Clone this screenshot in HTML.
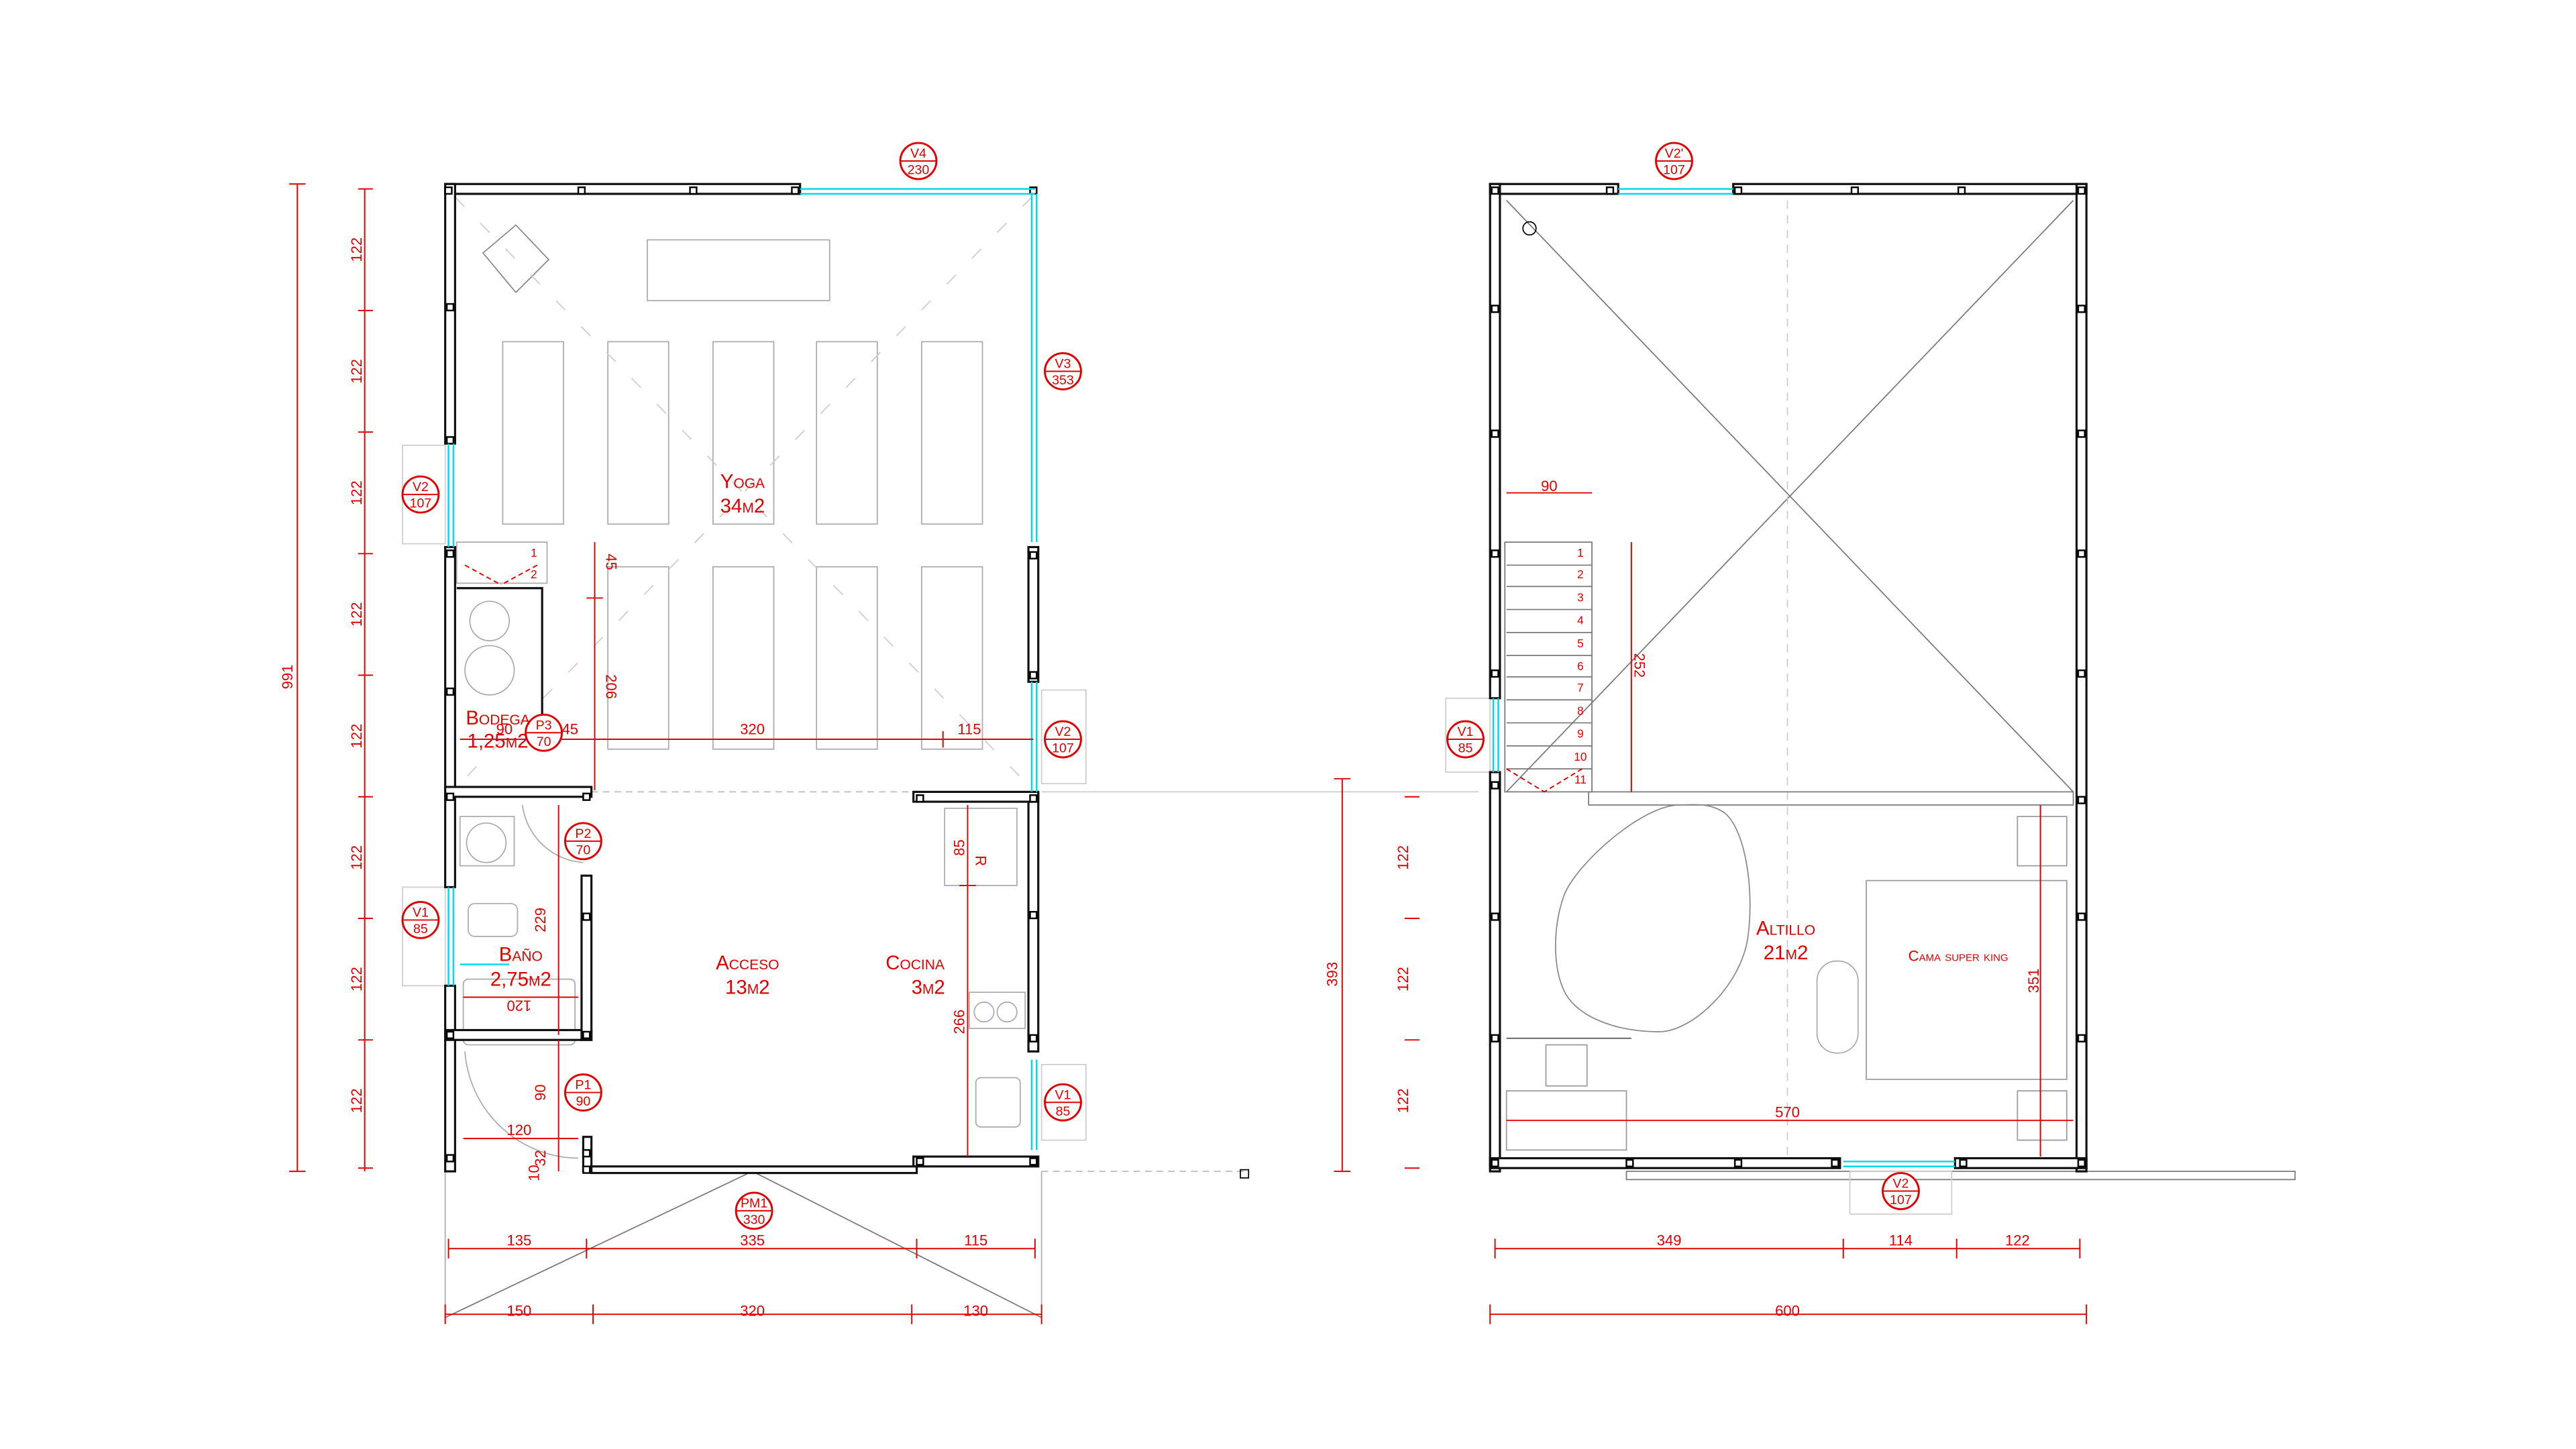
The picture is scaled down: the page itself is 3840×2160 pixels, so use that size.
<!DOCTYPE html>
<html><head><meta charset="utf-8">
<style>
html,body{margin:0;padding:0;background:#fff;}
svg{display:block}
text{font-family:"Liberation Sans",sans-serif;fill:#e00000;}
.sc{font-variant:small-caps;}
</style></head>
<body>
<svg width="3840" height="2160" viewBox="0 0 1568 882" xmlns="http://www.w3.org/2000/svg">
<rect width="1568" height="882" fill="#fff"/>
<defs>
<g id="tag"><circle r="11" fill="#fff" stroke="#e00000" stroke-width="1.2"/><line x1="-11" y1="0" x2="11" y2="0" stroke="#e00000" stroke-width="0.8"/></g>
</defs>

<!-- ============ LEFT PLAN ============ -->
<g fill="none" stroke="#aaa" stroke-width="0.7">
  <rect x="394" y="146" width="111" height="37"/>
  <rect x="306" y="208" width="37" height="111"/><rect x="370" y="208" width="37" height="111"/><rect x="434" y="208" width="37" height="111"/><rect x="497" y="208" width="37" height="111"/><rect x="561" y="208" width="37" height="111"/>
  <rect x="370" y="345" width="37" height="111"/><rect x="434" y="345" width="37" height="111"/><rect x="497" y="345" width="37" height="111"/><rect x="561" y="345" width="37" height="111"/>
  <polygon points="294,154 314,137 334,158 314,178" stroke="#888"/>
  <line x1="277" y1="120" x2="628" y2="480" stroke="#ccc" stroke-dasharray="8 14"/>
  <line x1="628" y1="120" x2="277" y2="480" stroke="#ccc" stroke-dasharray="8 14"/>
  <circle cx="298" cy="378" r="12"/><circle cx="298" cy="408" r="15"/>
  <circle cx="296" cy="513" r="12"/><rect x="280" y="497" width="33" height="30"/>
  <rect x="285" y="550" width="30" height="20" rx="4"/>
  <rect x="282" y="596" width="68" height="40" rx="3"/>
  <rect x="575" y="492" width="44" height="47"/>
  <rect x="590" y="604" width="34" height="22"/><circle cx="599" cy="616" r="6"/><circle cx="613" cy="616" r="6"/>
  <rect x="594" y="656" width="27" height="30" rx="3"/>
  <rect x="278" y="330" width="55" height="25"/>
  <line x1="271" y1="713" x2="271" y2="802"/><line x1="634" y1="713" x2="634" y2="802"/>
  <line x1="271" y1="802" x2="458" y2="713" stroke="#777"/><line x1="458" y1="713" x2="634" y2="802" stroke="#777"/>
  <path d="M318 490 A40 40 0 0 0 355 525"/><path d="M283 640 A70 70 0 0 0 352 705"/>
  <line x1="634" y1="482" x2="900" y2="482" stroke="#ccc"/>
  <line x1="360" y1="482" x2="556" y2="482" stroke="#bbb" stroke-dasharray="4 3"/>
  <line x1="634" y1="713" x2="757" y2="713" stroke="#bbb" stroke-dasharray="4 3"/>
  <rect x="755" y="712" width="5" height="5" stroke="#000"/>
  <rect x="245" y="271" width="26" height="60" stroke="#ccc"/>
  <rect x="245" y="540" width="26" height="60" stroke="#ccc"/>
  <rect x="634" y="420" width="27" height="57" stroke="#ccc"/>
  <rect x="634" y="648" width="27" height="46" stroke="#ccc"/>
</g>
<!-- walls -->
<g fill="#fff" stroke="#111" stroke-width="1.3">
  <rect x="271" y="112" width="216" height="6"/>
  <rect x="271" y="112" width="6" height="158"/>
  <rect x="271" y="333" width="6" height="207"/>
  <rect x="271" y="600" width="6" height="113"/>
  <rect x="626" y="333" width="6" height="82"/>
  <rect x="626" y="483" width="6" height="157"/>
  <rect x="271" y="479" width="89" height="6"/>
  <rect x="556" y="482" width="76" height="6"/>
  <rect x="556" y="704" width="76" height="6"/>
  <rect x="271" y="627" width="89" height="6"/>
  <rect x="354" y="533" width="6" height="100"/>
  <rect x="355" y="692" width="5" height="21"/>
  <rect x="360" y="710" width="198" height="4"/>
  <path d="M278 358 H330 V440" fill="none"/>
</g>
<g fill="#fff" stroke="#000" stroke-width="1">
  <rect x="271" y="114" width="4" height="4"/><rect x="352" y="114" width="4" height="4"/><rect x="420" y="114" width="4" height="4"/><rect x="482" y="114" width="4" height="4"/>
  <rect x="272" y="185" width="4" height="4"/><rect x="272" y="266" width="4" height="4"/><rect x="272" y="335" width="4" height="4"/><rect x="272" y="419" width="4" height="4"/>
  <rect x="272" y="483" width="4" height="4"/><rect x="272" y="628" width="4" height="4"/><rect x="272" y="703" width="4" height="4"/>
  <rect x="627" y="114" width="4" height="4"/><rect x="627" y="336" width="4" height="4"/><rect x="627" y="409" width="4" height="4"/>
  <rect x="627" y="484" width="4" height="4"/><rect x="627" y="555" width="4" height="4"/><rect x="627" y="630" width="4" height="4"/><rect x="627" y="705" width="4" height="4"/>
  <rect x="355" y="483" width="4" height="4"/><rect x="355" y="556" width="4" height="4"/><rect x="355" y="628" width="4" height="4"/><rect x="355" y="700" width="4" height="4"/><rect x="355" y="710" width="4" height="4"/>
  <rect x="558" y="484" width="4" height="4"/><rect x="558" y="705" width="4" height="4"/>
</g>
<!-- windows cyan -->
<g stroke="#00d8e8" stroke-width="1">
  <line x1="487" y1="115" x2="630" y2="115"/><line x1="487" y1="118" x2="630" y2="118"/>
  <line x1="628" y1="118" x2="628" y2="330"/><line x1="631" y1="118" x2="631" y2="330"/>
  <line x1="273" y1="270" x2="273" y2="333"/><line x1="276" y1="270" x2="276" y2="333"/>
  <line x1="628" y1="415" x2="628" y2="482"/><line x1="631" y1="415" x2="631" y2="482"/>
  <line x1="273" y1="540" x2="273" y2="600"/><line x1="276" y1="540" x2="276" y2="600"/>
  <line x1="628" y1="645" x2="628" y2="700"/><line x1="631" y1="645" x2="631" y2="700"/>
  <line x1="280" y1="587" x2="310" y2="587"/>
</g>

<!-- ============ RIGHT PLAN ============ -->
<g fill="none" stroke="#777" stroke-width="0.7">
  <line x1="917" y1="122" x2="1262" y2="482"/><line x1="1262" y1="122" x2="917" y2="482"/>
  <line x1="1088" y1="122" x2="1088" y2="705" stroke="#ccc" stroke-dasharray="5 4"/>
  <rect x="967" y="482" width="295" height="8"/>
  <rect x="916" y="330" width="53" height="152"/>
  <path d="M917 344H969M917 357H969M917 371H969M917 385H969M917 399H969M917 412H969M917 426H969M917 440H969M917 454H969M917 468H969"/>
  <rect x="990" y="713" width="407" height="5"/>
  <path d="M1022 490 C1000 490 960 525 952 545 C945 565 945 590 953 605 C962 620 985 628 1010 628 C1030 628 1060 600 1064 570 C1068 540 1062 505 1050 495 C1040 488 1030 490 1022 490Z" stroke="#888"/>
  <rect x="1106" y="585" width="25" height="56" rx="12" stroke="#aaa"/>
  <rect x="1136" y="536" width="122" height="121" stroke="#999"/>
  <rect x="1228" y="497" width="30" height="30" stroke="#999"/><rect x="1228" y="664" width="30" height="30" stroke="#999"/>
  <rect x="941" y="636" width="25" height="25" stroke="#999"/><rect x="917" y="664" width="73" height="36" stroke="#999"/>
  <line x1="917" y1="632" x2="993" y2="632" stroke="#555"/>
  <circle cx="931" cy="139" r="4" stroke="#000"/>
  <rect x="880" y="425" width="27" height="45" stroke="#ccc"/>
  <rect x="1126" y="713" width="62" height="26" stroke="#ccc"/>
</g>
<g fill="#fff" stroke="#111" stroke-width="1.3">
  <rect x="907" y="112" width="78" height="6"/>
  <rect x="1055" y="112" width="215" height="6"/>
  <rect x="907" y="112" width="6" height="313"/>
  <rect x="907" y="470" width="6" height="243"/>
  <rect x="1264" y="112" width="6" height="601"/>
  <rect x="907" y="705" width="213" height="6"/>
  <rect x="1190" y="705" width="80" height="6"/>
</g>
<g fill="#fff" stroke="#000" stroke-width="1">
  <rect x="908" y="114" width="4" height="4"/><rect x="978" y="114" width="4" height="4"/><rect x="1056" y="114" width="4" height="4"/><rect x="1127" y="114" width="4" height="4"/><rect x="1192" y="114" width="4" height="4"/><rect x="1265" y="114" width="4" height="4"/>
  <rect x="908" y="186" width="4" height="4"/><rect x="908" y="262" width="4" height="4"/><rect x="908" y="335" width="4" height="4"/><rect x="908" y="408" width="4" height="4"/><rect x="908" y="476" width="4" height="4"/><rect x="908" y="556" width="4" height="4"/><rect x="908" y="630" width="4" height="4"/><rect x="908" y="706" width="4" height="4"/>
  <rect x="1265" y="186" width="4" height="4"/><rect x="1265" y="262" width="4" height="4"/><rect x="1265" y="335" width="4" height="4"/><rect x="1265" y="408" width="4" height="4"/><rect x="1265" y="485" width="4" height="4"/><rect x="1265" y="556" width="4" height="4"/><rect x="1265" y="630" width="4" height="4"/><rect x="1265" y="706" width="4" height="4"/>
  <rect x="990" y="706" width="4" height="4"/><rect x="1056" y="706" width="4" height="4"/><rect x="1115" y="706" width="4" height="4"/><rect x="1193" y="706" width="4" height="4"/>
</g>
<g stroke="#00d8e8" stroke-width="1">
  <line x1="985" y1="115" x2="1055" y2="115"/><line x1="985" y1="118" x2="1055" y2="118"/>
  <line x1="909" y1="425" x2="909" y2="470"/><line x1="912" y1="425" x2="912" y2="470"/>
  <line x1="1122" y1="707" x2="1190" y2="707"/><line x1="1122" y1="710" x2="1190" y2="710"/>
</g>

<!-- ============ DIMENSIONS ============ -->
<g stroke="#e00000" stroke-width="0.8" fill="none">
  <line x1="181" y1="112" x2="181" y2="713"/><line x1="176" y1="112" x2="186" y2="112"/><line x1="176" y1="713" x2="186" y2="713"/>
  <line x1="222" y1="115" x2="222" y2="713"/>
  <path d="M218 115H227M218 189H227M218 263H227M218 337H227M218 411H227M218 485H227M218 559H227M218 633H227M218 711H227"/>
  <line x1="817" y1="474" x2="817" y2="713"/><line x1="812" y1="474" x2="822" y2="474"/><line x1="812" y1="713" x2="822" y2="713"/>
  <path d="M855 485H864M855 559H864M855 633H864M855 711H864"/>
  <line x1="273" y1="760" x2="630" y2="760"/><path d="M273 754V766M357 754V766M558 754V766M630 754V766"/>
  <line x1="271" y1="800" x2="634" y2="800"/><path d="M271 794V806M361 794V806M555 794V806M634 794V806"/>
  <line x1="910" y1="760" x2="1266" y2="760"/><path d="M910 754V766M1122 754V766M1191 754V766M1266 754V766"/>
  <line x1="907" y1="800" x2="1270" y2="800"/><path d="M907 794V806M1270 794V806"/>
  <line x1="280" y1="450" x2="629" y2="450"/><line x1="574" y1="445" x2="574" y2="455"/>
  <line x1="362" y1="330" x2="362" y2="481"/><line x1="357" y1="364" x2="367" y2="364"/>
  <line x1="340" y1="490" x2="340" y2="630"/>
  <line x1="282" y1="607" x2="352" y2="607"/>
  <line x1="340" y1="633" x2="340" y2="713"/>
  <line x1="282" y1="693" x2="352" y2="693"/>
  <line x1="589" y1="490" x2="589" y2="704"/><line x1="584" y1="539" x2="594" y2="539"/>
  <line x1="917" y1="300" x2="969" y2="300"/>
  <line x1="993" y1="330" x2="993" y2="482"/>
  <line x1="917" y1="682" x2="1262" y2="682"/>
  <line x1="1242" y1="490" x2="1242" y2="704"/>
  <line x1="917" y1="468" x2="940" y2="482" stroke-dasharray="3 2"/><line x1="963" y1="468" x2="940" y2="482" stroke-dasharray="3 2"/>
  <line x1="283" y1="344" x2="305" y2="356" stroke-dasharray="3 2"/><line x1="327" y1="344" x2="305" y2="356" stroke-dasharray="3 2"/>
</g>

<!-- tags -->
<g>
  <use href="#tag" x="559" y="98"/><use href="#tag" x="647" y="226"/><use href="#tag" x="256" y="301"/><use href="#tag" x="647" y="450"/>
  <use href="#tag" x="331" y="446"/><use href="#tag" x="355" y="512"/><use href="#tag" x="256" y="560"/><use href="#tag" x="355" y="665"/>
  <use href="#tag" x="647" y="671"/><use href="#tag" x="459" y="737"/><use href="#tag" x="1019" y="98"/><use href="#tag" x="892" y="450"/><use href="#tag" x="1157" y="725"/>
</g>
<g font-size="8" text-anchor="middle">
  <text x="559" y="96">V4</text><text x="559" y="106">230</text>
  <text x="647" y="224">V3</text><text x="647" y="234">353</text>
  <text x="256" y="299">V2</text><text x="256" y="309">107</text>
  <text x="647" y="448">V2</text><text x="647" y="458">107</text>
  <text x="331" y="444">P3</text><text x="331" y="454">70</text>
  <text x="355" y="510">P2</text><text x="355" y="520">70</text>
  <text x="256" y="558">V1</text><text x="256" y="568">85</text>
  <text x="355" y="663">P1</text><text x="355" y="673">90</text>
  <text x="647" y="669">V1</text><text x="647" y="679">85</text>
  <text x="459" y="735">PM1</text><text x="459" y="745">330</text>
  <text x="1019" y="96">V2'</text><text x="1019" y="106">107</text>
  <text x="892" y="448">V1</text><text x="892" y="458">85</text>
  <text x="1157" y="723">V2</text><text x="1157" y="733">107</text>
</g>

<!-- dimension texts -->
<g font-size="9" text-anchor="middle">
  <text transform="translate(178,412) rotate(-90)">991</text>
  <text transform="translate(220,152) rotate(-90)">122</text>
  <text transform="translate(220,226) rotate(-90)">122</text>
  <text transform="translate(220,300) rotate(-90)">122</text>
  <text transform="translate(220,374) rotate(-90)">122</text>
  <text transform="translate(220,448) rotate(-90)">122</text>
  <text transform="translate(220,522) rotate(-90)">122</text>
  <text transform="translate(220,596) rotate(-90)">122</text>
  <text transform="translate(220,670) rotate(-90)">122</text>
  <text transform="translate(814,593) rotate(-90)">393</text>
  <text transform="translate(857,522) rotate(-90)">122</text>
  <text transform="translate(857,596) rotate(-90)">122</text>
  <text transform="translate(857,670) rotate(-90)">122</text>
  <text x="316" y="758">135</text><text x="458" y="758">335</text><text x="594" y="758">115</text>
  <text x="316" y="801">150</text><text x="458" y="801">320</text><text x="594" y="801">130</text>
  <text x="1016" y="758">349</text><text x="1157" y="758">114</text><text x="1228" y="758">122</text>
  <text x="1088" y="801">600</text>
  <text x="458" y="447">320</text><text x="590" y="447">115</text><text x="307" y="447">90</text><text x="347" y="447">45</text>
  <text transform="translate(369,342) rotate(90)">45</text>
  <text transform="translate(369,418) rotate(90)">206</text>
  <text transform="translate(332,560) rotate(-90)">229</text>
  <text transform="translate(316,609) rotate(180)">120</text>
  <text transform="translate(332,665) rotate(-90)">90</text>
  <text x="316" y="691">120</text>
  <text transform="translate(332,705) rotate(-90)">32</text>
  <text transform="translate(328,714) rotate(-90)">10</text>
  <text transform="translate(587,516) rotate(-90)">85</text>
  <text transform="translate(587,622) rotate(-90)">266</text>
  <text transform="translate(594,524) rotate(90)">R</text>
  <text x="943" y="299">90</text>
  <text transform="translate(995,405) rotate(90)">252</text>
  <text x="1088" y="680">570</text>
  <text transform="translate(1241,597) rotate(-90)">351</text>
</g>
<g font-size="7" text-anchor="middle">
  <text x="962" y="339">1</text><text x="962" y="352">2</text><text x="962" y="366">3</text><text x="962" y="380">4</text><text x="962" y="394">5</text><text x="962" y="408">6</text><text x="962" y="421">7</text><text x="962" y="435">8</text><text x="962" y="449">9</text><text x="962" y="463">10</text><text x="962" y="477">11</text>
  <text x="325" y="339">1</text><text x="325" y="352">2</text>
</g>

<!-- room labels -->
<g font-size="12" text-anchor="middle" class="sc">
  <text x="452" y="297">Yoga</text><text x="452" y="312">34m2</text>
  <text x="303" y="441">Bodega</text><text x="303" y="455">1,25m2</text>
  <text x="317" y="585">Baño</text><text x="317" y="600">2,75m2</text>
  <text x="455" y="590">Acceso</text><text x="455" y="605">13m2</text>
  <text x="557" y="590">Cocina</text><text x="565" y="605">3m2</text>
  <text x="1087" y="569">Altillo</text><text x="1087" y="584">21m2</text>
</g>
<text x="1192" y="585" font-size="9" text-anchor="middle" class="sc">Cama super king</text>
</svg>
</body></html>
